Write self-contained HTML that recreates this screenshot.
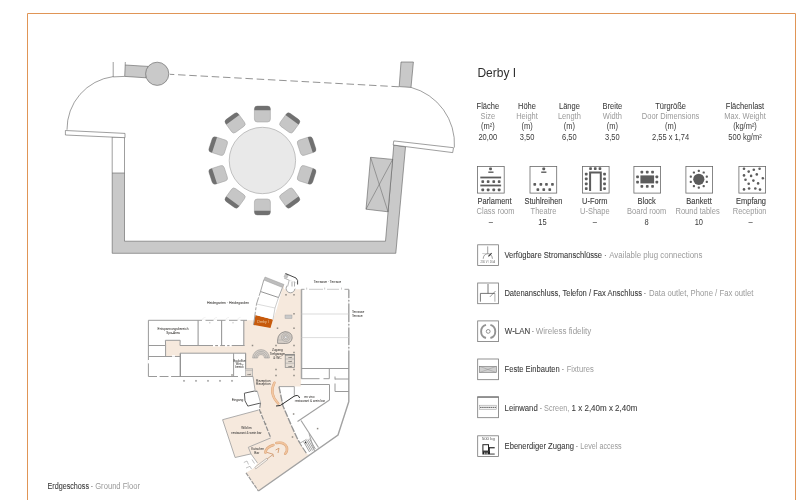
<!DOCTYPE html><html><head><meta charset="utf-8"><title>Derby I</title><style>html,body{margin:0;padding:0;background:#fff}svg{display:block;will-change:transform}text{font-family:"Liberation Sans",sans-serif}</style></head><body><svg width="800" height="500" viewBox="0 0 800 500"><path d="M27.5 500V13.5H795.5V500" fill="none" stroke="#e09556" stroke-width="1"/>
<polygon points="112.2,173.0 112.2,253.3 395.8,253.3 405.5,146.9 393.8,145.0 385.5,241.2 124.5,241.2 124.5,173.0" fill="#c9c9c9" stroke="#5e5e5e" stroke-width="0.6" />
<polyline points="112.2,173.0 112.2,137.0 124.5,137.0 124.5,173.0" fill="none" stroke="#5e5e5e" stroke-width="0.6" />
<polygon points="65.4,130.5 125.0,133.4 125.0,137.7 65.4,135.0" fill="#fff" stroke="#5e5e5e" stroke-width="0.6" />
<path d="M113.2 76.6 A53 53 0 0 0 67 129.8" fill="none" stroke="#5e5e5e" stroke-width="0.6"/>
<line x1="113.2" y1="62" x2="113.2" y2="77" stroke="#5e5e5e" stroke-width="0.6" />
<line x1="113.2" y1="76.9" x2="124.7" y2="76.4" stroke="#5e5e5e" stroke-width="0.6" />
<polygon points="125.2,65.0 148.0,66.4 146.0,77.8 124.7,76.4" fill="#c9c9c9" stroke="#5e5e5e" stroke-width="0.6" />
<line x1="125.3" y1="62" x2="125.2" y2="65" stroke="#5e5e5e" stroke-width="0.6" />
<circle cx="157.2" cy="73.8" r="11.6" fill="#c9c9c9" stroke="#5e5e5e" stroke-width="0.6"/>
<line x1="169.8" y1="74.3" x2="399.2" y2="86.8" stroke="#777" stroke-width="0.8" stroke-dasharray="7.5 3.75" stroke-dashoffset="3"/>
<polygon points="401.0,62.0 413.4,62.0 411.0,87.4 399.2,86.6" fill="#c9c9c9" stroke="#5e5e5e" stroke-width="0.6" />
<path d="M411 87.4 A58.6 58.6 0 0 1 454.4 147.5" fill="none" stroke="#5e5e5e" stroke-width="0.6"/>
<polygon points="393.8,140.9 453.5,147.7 452.7,152.6 393.2,145.0" fill="#fff" stroke="#5e5e5e" stroke-width="0.6" />
<polygon points="370.6,157.3 392.7,159.4 388.0,211.8 366.0,209.2" fill="#c9c9c9" stroke="#5e5e5e" stroke-width="0.6" />
<line x1="370.6" y1="157.3" x2="388" y2="211.8" stroke="#5e5e5e" stroke-width="0.5" />
<line x1="392.7" y1="159.4" x2="366" y2="209.2" stroke="#5e5e5e" stroke-width="0.5" />
<circle cx="262.4" cy="160.5" r="33.2" fill="#e9e9e9" stroke="#aaa" stroke-width="0.7"/>
<g transform="rotate(0 262.4 160.5)"><rect x="254.39999999999998" y="106.0" width="16" height="16" rx="3" fill="#c6c6c6" stroke="#9a9a9a" stroke-width="0.5"/><path d="M254.39999999999998 110.2 v-1.2 a3 3 0 0 1 3 -3 h10 a3 3 0 0 1 3 3 v1.2 z" fill="#707070"/></g>
<g transform="rotate(36 262.4 160.5)"><rect x="254.39999999999998" y="106.0" width="16" height="16" rx="3" fill="#c6c6c6" stroke="#9a9a9a" stroke-width="0.5"/><path d="M254.39999999999998 110.2 v-1.2 a3 3 0 0 1 3 -3 h10 a3 3 0 0 1 3 3 v1.2 z" fill="#707070"/></g>
<g transform="rotate(72 262.4 160.5)"><rect x="254.39999999999998" y="106.0" width="16" height="16" rx="3" fill="#c6c6c6" stroke="#9a9a9a" stroke-width="0.5"/><path d="M254.39999999999998 110.2 v-1.2 a3 3 0 0 1 3 -3 h10 a3 3 0 0 1 3 3 v1.2 z" fill="#707070"/></g>
<g transform="rotate(108 262.4 160.5)"><rect x="254.39999999999998" y="106.0" width="16" height="16" rx="3" fill="#c6c6c6" stroke="#9a9a9a" stroke-width="0.5"/><path d="M254.39999999999998 110.2 v-1.2 a3 3 0 0 1 3 -3 h10 a3 3 0 0 1 3 3 v1.2 z" fill="#707070"/></g>
<g transform="rotate(144 262.4 160.5)"><rect x="254.39999999999998" y="106.0" width="16" height="16" rx="3" fill="#c6c6c6" stroke="#9a9a9a" stroke-width="0.5"/><path d="M254.39999999999998 110.2 v-1.2 a3 3 0 0 1 3 -3 h10 a3 3 0 0 1 3 3 v1.2 z" fill="#707070"/></g>
<g transform="rotate(180 262.4 160.5)"><rect x="254.39999999999998" y="106.0" width="16" height="16" rx="3" fill="#c6c6c6" stroke="#9a9a9a" stroke-width="0.5"/><path d="M254.39999999999998 110.2 v-1.2 a3 3 0 0 1 3 -3 h10 a3 3 0 0 1 3 3 v1.2 z" fill="#707070"/></g>
<g transform="rotate(216 262.4 160.5)"><rect x="254.39999999999998" y="106.0" width="16" height="16" rx="3" fill="#c6c6c6" stroke="#9a9a9a" stroke-width="0.5"/><path d="M254.39999999999998 110.2 v-1.2 a3 3 0 0 1 3 -3 h10 a3 3 0 0 1 3 3 v1.2 z" fill="#707070"/></g>
<g transform="rotate(252 262.4 160.5)"><rect x="254.39999999999998" y="106.0" width="16" height="16" rx="3" fill="#c6c6c6" stroke="#9a9a9a" stroke-width="0.5"/><path d="M254.39999999999998 110.2 v-1.2 a3 3 0 0 1 3 -3 h10 a3 3 0 0 1 3 3 v1.2 z" fill="#707070"/></g>
<g transform="rotate(288 262.4 160.5)"><rect x="254.39999999999998" y="106.0" width="16" height="16" rx="3" fill="#c6c6c6" stroke="#9a9a9a" stroke-width="0.5"/><path d="M254.39999999999998 110.2 v-1.2 a3 3 0 0 1 3 -3 h10 a3 3 0 0 1 3 3 v1.2 z" fill="#707070"/></g>
<g transform="rotate(324 262.4 160.5)"><rect x="254.39999999999998" y="106.0" width="16" height="16" rx="3" fill="#c6c6c6" stroke="#9a9a9a" stroke-width="0.5"/><path d="M254.39999999999998 110.2 v-1.2 a3 3 0 0 1 3 -3 h10 a3 3 0 0 1 3 3 v1.2 z" fill="#707070"/></g>
<text x="477.4" y="76.6" font-size="12" fill="#2e2e2e" text-anchor="start" font-weight="normal" >Derby I</text>
<text transform="translate(487.8 108.9) scale(0.904 1)" font-size="8.3" fill="#3a3a3a" text-anchor="middle" font-weight="normal" stroke="#3a3a3a" stroke-width="0.06">Fläche</text>
<text transform="translate(487.8 118.6) scale(0.904 1)" font-size="8.3" fill="#9a9a9a" text-anchor="middle" font-weight="normal" >Size</text>
<text transform="translate(487.8 128.6) scale(0.904 1)" font-size="8.3" fill="#3a3a3a" text-anchor="middle" font-weight="normal" >(m²)</text>
<text transform="translate(487.8 139.5) scale(0.904 1)" font-size="8.3" fill="#3a3a3a" text-anchor="middle" font-weight="normal" >20,00</text>
<text transform="translate(527 108.9) scale(0.904 1)" font-size="8.3" fill="#3a3a3a" text-anchor="middle" font-weight="normal" stroke="#3a3a3a" stroke-width="0.06">Höhe</text>
<text transform="translate(527 118.6) scale(0.904 1)" font-size="8.3" fill="#9a9a9a" text-anchor="middle" font-weight="normal" >Height</text>
<text transform="translate(527 128.6) scale(0.904 1)" font-size="8.3" fill="#3a3a3a" text-anchor="middle" font-weight="normal" >(m)</text>
<text transform="translate(527 139.5) scale(0.904 1)" font-size="8.3" fill="#3a3a3a" text-anchor="middle" font-weight="normal" >3,50</text>
<text transform="translate(569.4 108.9) scale(0.904 1)" font-size="8.3" fill="#3a3a3a" text-anchor="middle" font-weight="normal" stroke="#3a3a3a" stroke-width="0.06">Länge</text>
<text transform="translate(569.4 118.6) scale(0.904 1)" font-size="8.3" fill="#9a9a9a" text-anchor="middle" font-weight="normal" >Length</text>
<text transform="translate(569.4 128.6) scale(0.904 1)" font-size="8.3" fill="#3a3a3a" text-anchor="middle" font-weight="normal" >(m)</text>
<text transform="translate(569.4 139.5) scale(0.904 1)" font-size="8.3" fill="#3a3a3a" text-anchor="middle" font-weight="normal" >6,50</text>
<text transform="translate(612.4 108.9) scale(0.904 1)" font-size="8.3" fill="#3a3a3a" text-anchor="middle" font-weight="normal" stroke="#3a3a3a" stroke-width="0.06">Breite</text>
<text transform="translate(612.4 118.6) scale(0.904 1)" font-size="8.3" fill="#9a9a9a" text-anchor="middle" font-weight="normal" >Width</text>
<text transform="translate(612.4 128.6) scale(0.904 1)" font-size="8.3" fill="#3a3a3a" text-anchor="middle" font-weight="normal" >(m)</text>
<text transform="translate(612.4 139.5) scale(0.904 1)" font-size="8.3" fill="#3a3a3a" text-anchor="middle" font-weight="normal" >3,50</text>
<text transform="translate(670.6 108.9) scale(0.904 1)" font-size="8.3" fill="#3a3a3a" text-anchor="middle" font-weight="normal" stroke="#3a3a3a" stroke-width="0.06">Türgröße</text>
<text transform="translate(670.6 118.6) scale(0.904 1)" font-size="8.3" fill="#9a9a9a" text-anchor="middle" font-weight="normal" >Door Dimensions</text>
<text transform="translate(670.6 128.6) scale(0.904 1)" font-size="8.3" fill="#3a3a3a" text-anchor="middle" font-weight="normal" >(m)</text>
<text transform="translate(670.6 139.5) scale(0.904 1)" font-size="8.3" fill="#3a3a3a" text-anchor="middle" font-weight="normal" >2,55 x 1,74</text>
<text transform="translate(745 108.9) scale(0.904 1)" font-size="8.3" fill="#3a3a3a" text-anchor="middle" font-weight="normal" stroke="#3a3a3a" stroke-width="0.06">Flächenlast</text>
<text transform="translate(745 118.6) scale(0.904 1)" font-size="8.3" fill="#9a9a9a" text-anchor="middle" font-weight="normal" >Max. Weight</text>
<text transform="translate(745 128.6) scale(0.904 1)" font-size="8.3" fill="#3a3a3a" text-anchor="middle" font-weight="normal" >(kg/m²)</text>
<text transform="translate(745 139.5) scale(0.904 1)" font-size="8.3" fill="#3a3a3a" text-anchor="middle" font-weight="normal" >500 kg/m²</text>
<rect x="477.5" y="166.4" width="26.7" height="26.7" fill="#fff" stroke="#6a6a6a" stroke-width="0.8"/>
<rect x="530.0" y="166.4" width="26.7" height="26.7" fill="#fff" stroke="#6a6a6a" stroke-width="0.8"/>
<rect x="582.4" y="166.4" width="26.7" height="26.7" fill="#fff" stroke="#6a6a6a" stroke-width="0.8"/>
<rect x="633.9" y="166.4" width="26.7" height="26.7" fill="#fff" stroke="#6a6a6a" stroke-width="0.8"/>
<rect x="685.9" y="166.4" width="26.7" height="26.7" fill="#fff" stroke="#6a6a6a" stroke-width="0.8"/>
<rect x="738.9" y="166.4" width="26.7" height="26.7" fill="#fff" stroke="#6a6a6a" stroke-width="0.8"/>
<text transform="translate(494.5 203.5) scale(0.904 1)" font-size="8.3" fill="#3a3a3a" text-anchor="middle" font-weight="normal" stroke="#3a3a3a" stroke-width="0.1">Parlament</text>
<text transform="translate(495.5 213.9) scale(0.904 1)" font-size="8.3" fill="#9a9a9a" text-anchor="middle" font-weight="normal" >Class room</text>
<text transform="translate(490.8 225) scale(0.904 1)" font-size="8.3" fill="#3a3a3a" text-anchor="middle" font-weight="normal" >–</text>
<text transform="translate(543.5 203.5) scale(0.904 1)" font-size="8.3" fill="#3a3a3a" text-anchor="middle" font-weight="normal" stroke="#3a3a3a" stroke-width="0.1">Stuhlreihen</text>
<text transform="translate(543.5 213.9) scale(0.904 1)" font-size="8.3" fill="#9a9a9a" text-anchor="middle" font-weight="normal" >Theatre</text>
<text transform="translate(542.5 225) scale(0.904 1)" font-size="8.3" fill="#3a3a3a" text-anchor="middle" font-weight="normal" >15</text>
<text transform="translate(594.8 203.5) scale(0.904 1)" font-size="8.3" fill="#3a3a3a" text-anchor="middle" font-weight="normal" stroke="#3a3a3a" stroke-width="0.1">U-Form</text>
<text transform="translate(594.8 213.9) scale(0.904 1)" font-size="8.3" fill="#9a9a9a" text-anchor="middle" font-weight="normal" >U-Shape</text>
<text transform="translate(594.8 225) scale(0.904 1)" font-size="8.3" fill="#3a3a3a" text-anchor="middle" font-weight="normal" >–</text>
<text transform="translate(646.7 203.5) scale(0.904 1)" font-size="8.3" fill="#3a3a3a" text-anchor="middle" font-weight="normal" stroke="#3a3a3a" stroke-width="0.1">Block</text>
<text transform="translate(646.7 213.9) scale(0.904 1)" font-size="8.3" fill="#9a9a9a" text-anchor="middle" font-weight="normal" >Board room</text>
<text transform="translate(646.6 225) scale(0.904 1)" font-size="8.3" fill="#3a3a3a" text-anchor="middle" font-weight="normal" >8</text>
<text transform="translate(699 203.5) scale(0.904 1)" font-size="8.3" fill="#3a3a3a" text-anchor="middle" font-weight="normal" stroke="#3a3a3a" stroke-width="0.1">Bankett</text>
<text transform="translate(697.6 213.9) scale(0.904 1)" font-size="8.3" fill="#9a9a9a" text-anchor="middle" font-weight="normal" >Round tables</text>
<text transform="translate(698.8 225) scale(0.904 1)" font-size="8.3" fill="#3a3a3a" text-anchor="middle" font-weight="normal" >10</text>
<text transform="translate(751 203.5) scale(0.904 1)" font-size="8.3" fill="#3a3a3a" text-anchor="middle" font-weight="normal" stroke="#3a3a3a" stroke-width="0.1">Empfang</text>
<text transform="translate(749.6 213.9) scale(0.904 1)" font-size="8.3" fill="#9a9a9a" text-anchor="middle" font-weight="normal" >Reception</text>
<text transform="translate(750.7 225) scale(0.904 1)" font-size="8.3" fill="#3a3a3a" text-anchor="middle" font-weight="normal" >–</text>
<rect x="489.2" y="167.5" width="2.7" height="2.7" rx="0.7" fill="#5c5c5c"/>
<rect x="488.3" y="171.5" width="5.2" height="1.4" fill="#5c5c5c"/>
<rect x="480.3" y="176.6" width="20.8" height="1.8" fill="#5c5c5c"/>
<rect x="480.3" y="184.6" width="20.8" height="1.8" fill="#5c5c5c"/>
<rect x="481.4" y="180.2" width="2.7" height="2.7" rx="0.7" fill="#5c5c5c"/>
<rect x="481.4" y="188.5" width="2.7" height="2.7" rx="0.7" fill="#5c5c5c"/>
<rect x="486.8" y="180.2" width="2.7" height="2.7" rx="0.7" fill="#5c5c5c"/>
<rect x="486.8" y="188.5" width="2.7" height="2.7" rx="0.7" fill="#5c5c5c"/>
<rect x="492.4" y="180.2" width="2.7" height="2.7" rx="0.7" fill="#5c5c5c"/>
<rect x="492.4" y="188.5" width="2.7" height="2.7" rx="0.7" fill="#5c5c5c"/>
<rect x="497.8" y="180.2" width="2.7" height="2.7" rx="0.7" fill="#5c5c5c"/>
<rect x="497.8" y="188.5" width="2.7" height="2.7" rx="0.7" fill="#5c5c5c"/>
<rect x="542.4" y="167.5" width="2.7" height="2.7" rx="0.7" fill="#5c5c5c"/>
<rect x="541.2" y="171.5" width="5.2" height="1.4" fill="#5c5c5c"/>
<rect x="533.4" y="183.1" width="2.7" height="2.7" rx="0.7" fill="#5c5c5c"/>
<rect x="539.5" y="183.1" width="2.7" height="2.7" rx="0.7" fill="#5c5c5c"/>
<rect x="545.1" y="183.1" width="2.7" height="2.7" rx="0.7" fill="#5c5c5c"/>
<rect x="551.1" y="183.1" width="2.7" height="2.7" rx="0.7" fill="#5c5c5c"/>
<rect x="536.5" y="188.2" width="2.7" height="2.7" rx="0.7" fill="#5c5c5c"/>
<rect x="542.4" y="188.2" width="2.7" height="2.7" rx="0.7" fill="#5c5c5c"/>
<rect x="548.4" y="188.2" width="2.7" height="2.7" rx="0.7" fill="#5c5c5c"/>
<path d="M590.1 191V172.6H600.8V191" fill="none" stroke="#5c5c5c" stroke-width="2"/>
<rect x="589.2" y="167.2" width="2.7" height="2.7" rx="0.7" fill="#5c5c5c"/>
<rect x="593.9" y="167.2" width="2.7" height="2.7" rx="0.7" fill="#5c5c5c"/>
<rect x="598.6" y="167.2" width="2.7" height="2.7" rx="0.7" fill="#5c5c5c"/>
<rect x="584.9" y="172.7" width="2.7" height="2.7" rx="0.7" fill="#5c5c5c"/>
<rect x="603.2" y="172.7" width="2.7" height="2.7" rx="0.7" fill="#5c5c5c"/>
<rect x="584.9" y="177.5" width="2.7" height="2.7" rx="0.7" fill="#5c5c5c"/>
<rect x="603.2" y="177.5" width="2.7" height="2.7" rx="0.7" fill="#5c5c5c"/>
<rect x="584.9" y="182.5" width="2.7" height="2.7" rx="0.7" fill="#5c5c5c"/>
<rect x="603.2" y="182.5" width="2.7" height="2.7" rx="0.7" fill="#5c5c5c"/>
<rect x="584.9" y="187.2" width="2.7" height="2.7" rx="0.7" fill="#5c5c5c"/>
<rect x="603.2" y="187.2" width="2.7" height="2.7" rx="0.7" fill="#5c5c5c"/>
<rect x="640.4" y="175.4" width="13.7" height="8" fill="#5c5c5c"/>
<rect x="640.5" y="170.8" width="2.7" height="2.7" rx="0.7" fill="#5c5c5c"/>
<rect x="640.5" y="185.0" width="2.7" height="2.7" rx="0.7" fill="#5c5c5c"/>
<rect x="645.9" y="170.8" width="2.7" height="2.7" rx="0.7" fill="#5c5c5c"/>
<rect x="645.9" y="185.0" width="2.7" height="2.7" rx="0.7" fill="#5c5c5c"/>
<rect x="651.2" y="170.8" width="2.7" height="2.7" rx="0.7" fill="#5c5c5c"/>
<rect x="651.2" y="185.0" width="2.7" height="2.7" rx="0.7" fill="#5c5c5c"/>
<rect x="636.2" y="175.6" width="2.7" height="2.7" rx="0.7" fill="#5c5c5c"/>
<rect x="655.5" y="175.6" width="2.7" height="2.7" rx="0.7" fill="#5c5c5c"/>
<rect x="636.2" y="180.8" width="2.7" height="2.7" rx="0.7" fill="#5c5c5c"/>
<rect x="655.5" y="180.8" width="2.7" height="2.7" rx="0.7" fill="#5c5c5c"/>
<circle cx="698.8" cy="179.3" r="5.6" fill="#5c5c5c"/>
<rect x="697.7" y="169.8" width="2.2" height="2.2" rx="0.7" fill="#5c5c5c"/>
<rect x="702.6" y="171.4" width="2.2" height="2.2" rx="0.7" fill="#5c5c5c"/>
<rect x="705.7" y="175.6" width="2.2" height="2.2" rx="0.7" fill="#5c5c5c"/>
<rect x="705.7" y="180.8" width="2.2" height="2.2" rx="0.7" fill="#5c5c5c"/>
<rect x="702.6" y="185.0" width="2.2" height="2.2" rx="0.7" fill="#5c5c5c"/>
<rect x="697.7" y="186.6" width="2.2" height="2.2" rx="0.7" fill="#5c5c5c"/>
<rect x="692.8" y="185.0" width="2.2" height="2.2" rx="0.7" fill="#5c5c5c"/>
<rect x="689.7" y="180.8" width="2.2" height="2.2" rx="0.7" fill="#5c5c5c"/>
<rect x="689.7" y="175.6" width="2.2" height="2.2" rx="0.7" fill="#5c5c5c"/>
<rect x="692.8" y="171.4" width="2.2" height="2.2" rx="0.7" fill="#5c5c5c"/>
<circle cx="744.0" cy="168.8" r="1.3" fill="#5c5c5c"/>
<circle cx="753.8" cy="169.8" r="1.3" fill="#5c5c5c"/>
<circle cx="759.6" cy="168.8" r="1.3" fill="#5c5c5c"/>
<circle cx="748.7" cy="171.6" r="1.3" fill="#5c5c5c"/>
<circle cx="756.8" cy="174.4" r="1.3" fill="#5c5c5c"/>
<circle cx="762.8" cy="178.2" r="1.3" fill="#5c5c5c"/>
<circle cx="744.0" cy="175.4" r="1.3" fill="#5c5c5c"/>
<circle cx="751.1" cy="175.9" r="1.3" fill="#5c5c5c"/>
<circle cx="745.5" cy="179.7" r="1.3" fill="#5c5c5c"/>
<circle cx="753.4" cy="180.6" r="1.3" fill="#5c5c5c"/>
<circle cx="758.1" cy="183.4" r="1.3" fill="#5c5c5c"/>
<circle cx="748.7" cy="183.8" r="1.3" fill="#5c5c5c"/>
<circle cx="744.0" cy="189.4" r="1.3" fill="#5c5c5c"/>
<circle cx="749.1" cy="188.5" r="1.3" fill="#5c5c5c"/>
<circle cx="755.3" cy="188.5" r="1.3" fill="#5c5c5c"/>
<circle cx="760.0" cy="189.6" r="1.3" fill="#5c5c5c"/>
<rect x="477.7" y="244.8" width="20.7" height="20.7" fill="#fff" stroke="#777" stroke-width="0.8"/>
<rect x="477.7" y="283.0" width="20.7" height="20.7" fill="#fff" stroke="#777" stroke-width="0.8"/>
<rect x="477.7" y="320.9" width="20.7" height="20.7" fill="#fff" stroke="#777" stroke-width="0.8"/>
<rect x="477.7" y="359.0" width="20.7" height="20.7" fill="#fff" stroke="#777" stroke-width="0.8"/>
<rect x="477.7" y="397.0" width="20.7" height="20.7" fill="#fff" stroke="#777" stroke-width="0.8"/>
<rect x="477.7" y="435.79999999999995" width="20.7" height="20.7" fill="#fff" stroke="#777" stroke-width="0.8"/>
<rect x="477.3" y="396.4" width="21.5" height="1.3" fill="#777"/>
<text x="504.4" y="258.3" font-size="8.3" fill="#3a3a3a" stroke="#3a3a3a" stroke-width="0.08" textLength="97.7" lengthAdjust="spacingAndGlyphs">Verfügbare Stromanschlüsse</text>
<text x="605.5" y="258.3" font-size="8.3" fill="#777" text-anchor="middle" stroke="#777" stroke-width="0.2">·</text>
<text x="609.2" y="258.3" font-size="8.3" fill="#9a9a9a" textLength="93.2" lengthAdjust="spacingAndGlyphs">Available plug connections</text>
<text x="504.4" y="296.3" font-size="8.3" fill="#3a3a3a" stroke="#3a3a3a" stroke-width="0.08" textLength="137.6" lengthAdjust="spacingAndGlyphs">Datenanschluss, Telefon / Fax Anschluss</text>
<text x="645.0" y="296.3" font-size="8.3" fill="#777" text-anchor="middle" stroke="#777" stroke-width="0.2">·</text>
<text x="648.9" y="296.3" font-size="8.3" fill="#9a9a9a" textLength="104.5" lengthAdjust="spacingAndGlyphs">Data outlet, Phone / Fax outlet</text>
<text x="504.8" y="334.4" font-size="8.3" fill="#3a3a3a" stroke="#3a3a3a" stroke-width="0.08" textLength="25.4" lengthAdjust="spacingAndGlyphs">W-LAN</text>
<text x="533.0" y="334.4" font-size="8.3" fill="#777" text-anchor="middle" stroke="#777" stroke-width="0.2">·</text>
<text x="535.8" y="334.4" font-size="8.3" fill="#9a9a9a" textLength="55.5" lengthAdjust="spacingAndGlyphs">Wireless fidelity</text>
<text x="504.6" y="372.3" font-size="8.3" fill="#3a3a3a" stroke="#3a3a3a" stroke-width="0.08" textLength="55.1" lengthAdjust="spacingAndGlyphs">Feste Einbauten</text>
<text x="563.0" y="372.3" font-size="8.3" fill="#777" text-anchor="middle" stroke="#777" stroke-width="0.2">·</text>
<text x="566.7" y="372.3" font-size="8.3" fill="#9a9a9a" textLength="27.0" lengthAdjust="spacingAndGlyphs">Fixtures</text>
<text x="504.6" y="410.5" font-size="8.3" fill="#3a3a3a" stroke="#3a3a3a" stroke-width="0.08" textLength="33.1" lengthAdjust="spacingAndGlyphs">Leinwand</text>
<text x="541.0" y="410.5" font-size="8.3" fill="#777" text-anchor="middle" stroke="#777" stroke-width="0.2">·</text>
<text x="544.1" y="410.5" font-size="8.3" fill="#9a9a9a" textLength="25.2" lengthAdjust="spacingAndGlyphs">Screen,</text>
<text x="571.6" y="410.5" font-size="8.3" fill="#3a3a3a" stroke="#3a3a3a" stroke-width="0.08" textLength="65.7" lengthAdjust="spacingAndGlyphs">1 x 2,40m x 2,40m</text>
<text x="504.6" y="448.9" font-size="8.3" fill="#3a3a3a" stroke="#3a3a3a" stroke-width="0.08" textLength="69.3" lengthAdjust="spacingAndGlyphs">Ebenerdiger Zugang</text>
<text x="577.0" y="448.9" font-size="8.3" fill="#777" text-anchor="middle" stroke="#777" stroke-width="0.2">·</text>
<text x="580.3" y="448.9" font-size="8.3" fill="#9a9a9a" textLength="41.4" lengthAdjust="spacingAndGlyphs">Level access</text>
<path d="M487.7 246.4V253.8M483.2 258.8A4.6 5.2 0 0 1 492.4 258.8" fill="none" stroke="#777" stroke-width="0.7"/>
<path d="M482.3 253.5L487.7 253.9" fill="none" stroke="#aaa" stroke-width="0.6"/>
<path d="M488.4 256.4L491.6 253.2" fill="none" stroke="#333" stroke-width="1.1"/>
<text x="487.8" y="263" font-size="2.7" fill="#666" text-anchor="middle">230 V / 16 A</text>
<path d="M488 284V293.4M480.4 301.7V293.4H494.9" fill="none" stroke="#555" stroke-width="0.8"/>
<path d="M494.9 293.4V301.7" fill="none" stroke="#999" stroke-width="0.8"/>
<path d="M489.9 296.9L495.5 291" fill="none" stroke="#555" stroke-width="0.6"/>
<circle cx="488.2" cy="331.4" r="1.9" fill="none" stroke="#777" stroke-width="0.8"/>
<path d="M486 324.8A6.9 6.9 0 0 0 486 338M490.4 324.8A6.9 6.9 0 0 1 490.4 338" fill="none" stroke="#949494" stroke-width="1.9"/>
<rect x="479.5" y="366.3" width="16.8" height="6.2" fill="#cfcfcf" stroke="#777" stroke-width="0.6"/>
<path d="M479.5 366.3l16.8 6.2M496.3 366.3l-16.8 6.2" stroke="#888" stroke-width="0.4"/>
<rect x="479.5" y="405.2" width="16.8" height="4.4" fill="#f2f2f2" stroke="#999" stroke-width="0.5"/>
<line x1="480" y1="407.4" x2="496" y2="407.4" stroke="#666" stroke-width="1" stroke-dasharray="1.6 0.5"/>
<text x="488.3" y="440.3" font-size="4.4" fill="#555" text-anchor="middle">500 kg</text>
<rect x="482.9" y="444.7" width="5.6" height="6.4" fill="#fff" stroke="#222" stroke-width="1"/>
<rect x="488.8" y="447" width="5.9" height="1.4" fill="#444"/>
<rect x="489.1" y="447" width="0.9" height="5" fill="#333"/>
<rect x="482.4" y="451.3" width="7.6" height="3.2" fill="#222"/>
<rect x="484.4" y="452.4" width="0.9" height="2.1" fill="#fff"/><rect x="486.6" y="452.4" width="0.9" height="2.1" fill="#fff"/>
<rect x="490" y="453.6" width="4.7" height="0.9" fill="#222"/>
<text x="47.5" y="488.8" font-size="8.3" fill="#3a3a3a" stroke="#3a3a3a" stroke-width="0.08" textLength="41.5" lengthAdjust="spacingAndGlyphs">Erdgeschoss</text>
<text x="92.0" y="488.8" font-size="8.3" fill="#777" text-anchor="middle" stroke="#777" stroke-width="0.2">·</text>
<text x="95.2" y="488.8" font-size="8.3" fill="#9a9a9a" textLength="44.9" lengthAdjust="spacingAndGlyphs">Ground Floor</text>
<polygon points="284.0,284.5 284.0,289.3 301.3,289.3 301.3,384.5 300.6,386.5 279.0,386.5 283.0,406.0 287.5,416.5 292.0,427.0 298.0,440.0 307.0,454.0 309.8,454.8 258.4,491.0 246.0,472.8 254.8,467.6 257.5,463.0 251.0,453.9 248.3,447.3 270.8,437.9 259.5,410.0 260.5,403.0 257.5,390.8 255.0,390.0 253.0,376.5 252.7,368.8 246.0,368.8 246.0,353.2 180.0,353.2 180.0,356.5 165.6,356.5 165.4,340.3 180.2,340.3 180.0,345.5 244.0,345.5 244.0,320.3 254.0,320.3 253.5,325.0 270.5,328.0 273.0,319.5 277.0,308.0 280.0,297.0 283.0,286.0" fill="#f6e9dd"/>
<polygon points="222.6,419.7 258.6,410.0 270.8,437.9 248.3,447.3 251.0,453.9 235.1,457.5" fill="#f6e9dd"/>
<polygon points="255.5,315.0 273.0,319.5 270.5,328.0 253.5,325.0" fill="#c75a0c" stroke="none" stroke-width="0" />
<polygon points="263.8,280.0 282.5,287.5 273.0,319.5 255.5,315.0" fill="#fff" stroke="none" stroke-width="0" />
<polyline points="253.5,325.0 256.5,304.0 260.5,291.5 263.8,280.0" fill="none" stroke="#9a9a9a" stroke-width="0.9" />
<polyline points="282.5,287.5 278.5,297.5" fill="none" stroke="#9a9a9a" stroke-width="0.9" />
<polyline points="278.5,297.5 275.0,308.0 273.0,319.5" fill="none" stroke="#b8b8b8" stroke-width="0.7" />
<line x1="256.5" y1="304" x2="275" y2="308" stroke="#b8b8b8" stroke-width="0.5" />
<line x1="260.5" y1="291.5" x2="278.5" y2="297.5" stroke="#8a8a8a" stroke-width="0.9" />
<polygon points="265.0,277.0 284.0,284.5 282.5,287.5 263.8,280.0" fill="#bdbdbd" stroke="#9a9a9a" stroke-width="0.5" />
<rect x="257.90000000000003" y="295.7" width="1.8" height="1.6" fill="#fff"/>
<rect x="255.1" y="305.7" width="1.8" height="1.6" fill="#fff"/>
<rect x="254.4" y="310.2" width="1.8" height="1.6" fill="#fff"/>
<circle cx="290.5" cy="288.4" r="4.4" fill="#fff" stroke="#9a9a9a" stroke-width="0.9"/>
<polygon points="284.2,276.2 286.2,273.8 297.0,278.4 297.8,285.0 295.0,289.0 287.5,287.0" fill="#fff" stroke="none" stroke-width="0" />
<polygon points="285.3,273.6 288.4,274.9 287.0,278.3 283.9,277.0" fill="#c4c4c4" stroke="#9a9a9a" stroke-width="0.3" />
<polyline points="285.5,273.5 296.0,278.0 297.6,280.5 297.6,284.5" fill="none" stroke="#333" stroke-width="0.9" />
<polyline points="284.0,278.0 289.2,280.2 287.6,286.6" fill="none" stroke="#9a9a9a" stroke-width="0.7" />
<polyline points="292.0,282.0 292.0,286.5" fill="none" stroke="#9a9a9a" stroke-width="0.8" />
<polyline points="294.5,281.5 294.5,286.5" fill="none" stroke="#9a9a9a" stroke-width="0.8" />
<polyline points="289.2,280.2 296.5,283.0" fill="none" stroke="#bbb" stroke-width="0.4" />
<rect x="148.4" y="320.3" width="95.4" height="25.2" fill="#fff"/>
<rect x="148.4" y="353.2" width="97.6" height="23.3" fill="#fff"/>
<rect x="165.6" y="340.3" width="14.4" height="16.2" fill="#f6e9dd"/>
<polyline points="247.0,320.3 148.4,320.3 148.4,376.5 253.0,376.5" fill="none" stroke="#9a9a9a" stroke-width="1.0" />
<polyline points="198.1,320.3 198.1,345.5" fill="none" stroke="#9a9a9a" stroke-width="1.1" />
<polyline points="221.6,320.3 221.6,345.5" fill="none" stroke="#9a9a9a" stroke-width="1.1" />
<polyline points="243.8,320.3 243.8,345.5" fill="none" stroke="#9a9a9a" stroke-width="1.1" />
<polyline points="148.4,345.5 165.6,345.5 165.4,340.3 180.2,340.3 180.0,345.5 244.6,345.5" fill="none" stroke="#9a9a9a" stroke-width="1.0" />
<polyline points="165.6,345.5 165.6,356.5" fill="none" stroke="#9a9a9a" stroke-width="1.0" />
<polyline points="148.4,356.5 180.0,356.5" fill="none" stroke="#9a9a9a" stroke-width="1.0" />
<polyline points="180.3,376.5 180.3,353.2" fill="none" stroke="#8e8e8e" stroke-width="1.3" />
<polyline points="180.0,353.2 246.0,353.2" fill="none" stroke="#9a9a9a" stroke-width="1.0" />
<polyline points="233.6,353.2 233.6,376.5" fill="none" stroke="#9a9a9a" stroke-width="1.0" />
<polyline points="245.6,353.2 245.6,369.0" fill="none" stroke="#9a9a9a" stroke-width="1.2" />
<rect x="202" y="319.3" width="3.5" height="2" fill="#fff"/>
<path d="M202 320 a3.5 3.5 0 0 1 3.5 -2.6" fill="none" stroke="#ddd" stroke-width="0.4"/>
<rect x="213.5" y="319.3" width="3.5" height="2" fill="#fff"/>
<path d="M213.5 320 a3.5 3.5 0 0 1 3.5 -2.6" fill="none" stroke="#ddd" stroke-width="0.4"/>
<rect x="225.5" y="319.3" width="3.5" height="2" fill="#fff"/>
<path d="M225.5 320 a3.5 3.5 0 0 1 3.5 -2.6" fill="none" stroke="#ddd" stroke-width="0.4"/>
<rect x="237.5" y="319.3" width="3" height="2" fill="#fff"/>
<path d="M237.5 320 a3 3 0 0 1 3 -2.6" fill="none" stroke="#ddd" stroke-width="0.4"/>
<rect x="213" y="345" width="2.2" height="1.6" fill="#fff"/>
<rect x="218" y="345" width="2.2" height="1.6" fill="#fff"/>
<rect x="225" y="345" width="2.2" height="1.6" fill="#fff"/>
<rect x="229.5" y="345" width="2.2" height="1.6" fill="#fff"/>
<rect x="157" y="375.7" width="2.6" height="1.8" fill="#fff"/>
<rect x="168.5" y="375.7" width="2.6" height="1.8" fill="#fff"/>
<rect x="147.5" y="360" width="1.8" height="3.4" fill="#fff"/>
<rect x="172" y="355.2" width="3" height="1.6" fill="#fff"/>
<rect x="238" y="375.7" width="3" height="1.8" fill="#fff"/>
<rect x="183.3" y="380.2" width="1.5" height="1.5" fill="#e8e8e8" stroke="#999" stroke-width="0.45"/>
<rect x="195.3" y="380.2" width="1.5" height="1.5" fill="#e8e8e8" stroke="#999" stroke-width="0.45"/>
<rect x="207.3" y="380.2" width="1.5" height="1.5" fill="#e8e8e8" stroke="#999" stroke-width="0.45"/>
<rect x="219.3" y="380.2" width="1.5" height="1.5" fill="#e8e8e8" stroke="#999" stroke-width="0.45"/>
<rect x="231.3" y="380.2" width="1.5" height="1.5" fill="#e8e8e8" stroke="#999" stroke-width="0.45"/>
<rect x="209.3" y="322.3" width="1" height="1" fill="#aaa"/>
<rect x="232.5" y="322.3" width="1" height="1" fill="#aaa"/>
<rect x="245.7" y="368.8" width="7" height="7.4" fill="#e6ded6" stroke="#9a9a9a" stroke-width="0.6"/>
<line x1="245.7" y1="370.3" x2="252.7" y2="370.3" stroke="#9a9a9a" stroke-width="0.5" />
<rect x="301.3" y="289.6" width="47.7" height="95" fill="#fff"/>
<polyline points="301.5,289.3 301.5,378.7" fill="none" stroke="#a6a6a6" stroke-width="1.5" />
<polyline points="300.6,384.5 329.5,384.5 329.5,400.0" fill="none" stroke="#9a9a9a" stroke-width="1.0" />
<polyline points="329.5,400.0 297.5,421.5" fill="none" stroke="#a0a0a0" stroke-width="1.1" />
<polyline points="301.3,289.3 304.5,289.3" fill="none" stroke="#9a9a9a" stroke-width="0.9" />
<polyline points="344.5,289.3 349.0,289.3" fill="none" stroke="#9a9a9a" stroke-width="0.9" />
<polyline points="309.0,289.3 323.0,289.3" fill="none" stroke="#b5b5b5" stroke-width="0.7" />
<polyline points="327.0,289.3 339.0,289.3" fill="none" stroke="#b5b5b5" stroke-width="0.7" />
<rect x="306.5" y="287.6" width="0.6" height="2" fill="#aaa"/>
<rect x="324.5" y="287.6" width="0.6" height="2" fill="#aaa"/>
<rect x="341" y="287.6" width="0.6" height="2" fill="#aaa"/>
<polyline points="348.8,289.6 348.8,401.0" fill="none" stroke="#a6a6a6" stroke-width="1.5" />
<polyline points="349.0,401.0 338.0,435.0 258.4,491.0" fill="none" stroke="#a2a2a2" stroke-width="1.4" />
<rect x="348.2" y="298" width="1.7" height="2" fill="#fff"/>
<rect x="348.2" y="301.5" width="1.7" height="2" fill="#fff"/>
<rect x="348.2" y="322" width="1.7" height="2" fill="#fff"/>
<rect x="348.2" y="325.5" width="1.7" height="2" fill="#fff"/>
<rect x="348.2" y="345" width="1.7" height="2" fill="#fff"/>
<rect x="348.2" y="348.5" width="1.7" height="2" fill="#fff"/>
<line x1="301.3" y1="314" x2="349" y2="314" stroke="#c4c4c4" stroke-width="0.6" />
<line x1="301.3" y1="337.6" x2="349" y2="337.6" stroke="#c4c4c4" stroke-width="0.6" />
<polyline points="301.3,368.5 349.0,368.5" fill="none" stroke="#9a9a9a" stroke-width="1.0" />
<polyline points="329.3,368.5 329.3,378.7" fill="none" stroke="#9a9a9a" stroke-width="1.0" />
<polyline points="301.3,378.7 319.5,378.7" fill="none" stroke="#9a9a9a" stroke-width="1.0" />
<polyline points="323.5,378.7 329.3,378.7" fill="none" stroke="#9a9a9a" stroke-width="1.0" />
<polyline points="335.0,376.5 335.0,379.5" fill="none" stroke="#9a9a9a" stroke-width="1.0" />
<polyline points="335.0,379.0 349.0,379.0" fill="none" stroke="#9a9a9a" stroke-width="1.0" />
<polyline points="335.0,383.5 335.0,391.5 349.0,391.5" fill="none" stroke="#9a9a9a" stroke-width="1.0" />
<polyline points="279.0,386.6 294.3,386.6 294.3,395.5" fill="none" stroke="#9a9a9a" stroke-width="0.9" />
<polyline points="301.0,420.5 318.5,447.5" fill="none" stroke="#a0a0a0" stroke-width="1.1" />
<polyline points="279.0,386.6 283.0,406.0 287.5,416.5 292.0,427.0 298.0,440.0 307.0,454.0" fill="none" stroke="#959595" stroke-width="1.4" stroke-dasharray="7 1.2"/>
<polyline points="253.0,376.5 255.0,390.0" fill="none" stroke="#9a9a9a" stroke-width="0.8" />
<polyline points="260.5,403.0 259.5,410.0 264.0,421.0 270.8,437.9" fill="none" stroke="#8e8e8e" stroke-width="1.2" stroke-dasharray="5 1.2"/>
<polyline points="258.6,410.0 222.6,419.7 235.1,457.5 251.0,453.9 248.3,447.3 270.8,437.9" fill="none" stroke="#9a9a9a" stroke-width="0.8" />
<polyline points="251.0,453.9 257.5,463.0" fill="none" stroke="#9a9a9a" stroke-width="0.7" />
<polygon points="254.8,467.3 266.6,458.3 267.6,459.7 255.8,468.9" fill="#faf3ec" stroke="#8a8a8a" stroke-width="0.5" />
<polyline points="267.0,459.0 273.2,454.4" fill="none" stroke="#b98c68" stroke-width="0.7" />
<polyline points="246.0,472.8 258.4,491.0" fill="none" stroke="#9a9a9a" stroke-width="1.2" stroke-dasharray="4 1"/>
<polyline points="243.8,462.5 247.0,461.0 248.5,464.5" fill="none" stroke="#9a9a9a" stroke-width="0.6" />
<polyline points="246.0,468.0 250.0,466.3 251.5,469.0" fill="none" stroke="#9a9a9a" stroke-width="0.6" />
<polyline points="252.0,459.5 254.5,463.5" fill="none" stroke="#9a9a9a" stroke-width="0.6" />
<polygon points="300.3,443.0 306.5,439.3 314.0,449.5 307.5,453.8" fill="#fff" stroke="none" stroke-width="0" />
<line x1="303.6" y1="441.6" x2="309.6" y2="452.0" stroke="#8a8a8a" stroke-width="0.8" />
<line x1="305.05" y1="440.85" x2="311.05" y2="451.25" stroke="#8a8a8a" stroke-width="0.8" />
<line x1="306.5" y1="440.1" x2="312.5" y2="450.5" stroke="#8a8a8a" stroke-width="0.8" />
<line x1="307.95000000000005" y1="439.35" x2="313.95000000000005" y2="449.75" stroke="#8a8a8a" stroke-width="0.8" />
<line x1="309.40000000000003" y1="438.6" x2="315.40000000000003" y2="449.0" stroke="#8a8a8a" stroke-width="0.8" />
<polyline points="300.3,443.0 306.5,439.3" fill="none" stroke="#999" stroke-width="0.8" />
<rect x="305" y="441.8" width="1.2" height="1.4" fill="#333"/>
<polyline points="309.0,433.5 314.5,451.0" fill="none" stroke="#a5a5a5" stroke-width="1.0" />
<polygon points="244.4,393.2 254.5,391.0 257.3,391.3 260.6,403.0 247.8,406.1 245.0,400.8" fill="#fff" stroke="none" stroke-width="0" />
<polyline points="257.3,391.3 254.5,391.0 244.4,393.2 245.0,400.8 247.8,406.1 260.6,403.0" fill="none" stroke="#484848" stroke-width="0.9" />
<polyline points="257.3,391.3 260.6,403.0" fill="none" stroke="#aaa" stroke-width="0.9" />
<path d="M274.5 382.6 Q268.5 393.5 278.3 403.6" fill="none" stroke="#d9a277" stroke-width="2.3" stroke-linecap="round"/>
<path d="M274.5 382.6 Q268.5 393.5 278.3 403.6" fill="none" stroke="#f3c7a1" stroke-width="1.5" stroke-linecap="round"/>
<path d="M276 406 Q280.5 406.5 284 403 L294 396.3 Q298.5 394 299.6 398" fill="none" stroke="#222" stroke-width="0.95"/>
<path d="M265.4 452.6 Q265.6 447.6 273.4 445 M276.4 443 Q284.6 441.4 286.9 447.5 Q287.6 451 285.2 453.8" fill="none" stroke="#d9a277" stroke-width="2.5" stroke-linecap="round"/>
<path d="M265.4 452.6 Q265.6 447.6 273.4 445 M276.4 443 Q284.6 441.4 286.9 447.5 Q287.6 451 285.2 453.8" fill="none" stroke="#f0c39c" stroke-width="1.6" stroke-linecap="round"/>
<path d="M267 452.4 L273 454.2 L273.4 457 M275.6 450 L279 448.2 L278 453" fill="none" stroke="#d49a6e" stroke-width="0.9"/>
<rect x="285" y="315" width="7" height="3.5" fill="#c9c9c9" stroke="#9a9a9a" stroke-width="0.4"/>
<rect x="293.25" y="313.05" width="1.5" height="1.5" fill="#8f8a84"/>
<rect x="276.75" y="327.45" width="1.5" height="1.5" fill="#8f8a84"/>
<rect x="293.25" y="327.45" width="1.5" height="1.5" fill="#8f8a84"/>
<rect x="251.75" y="344.75" width="1.5" height="1.5" fill="#8f8a84"/>
<rect x="275.25" y="344.75" width="1.5" height="1.5" fill="#8f8a84"/>
<rect x="293.25" y="344.75" width="1.5" height="1.5" fill="#8f8a84"/>
<rect x="293.25" y="351.75" width="1.5" height="1.5" fill="#8f8a84"/>
<rect x="275.25" y="368.75" width="1.5" height="1.5" fill="#8f8a84"/>
<rect x="293.25" y="368.75" width="1.5" height="1.5" fill="#8f8a84"/>
<rect x="275.25" y="374.75" width="1.5" height="1.5" fill="#8f8a84"/>
<rect x="293.25" y="374.75" width="1.5" height="1.5" fill="#8f8a84"/>
<rect x="285.25" y="294.05" width="1.5" height="1.5" fill="#8f8a84"/>
<rect x="293.25" y="294.05" width="1.5" height="1.5" fill="#8f8a84"/>
<rect x="292.85" y="413.25" width="1.5" height="1.5" fill="#8f8a84"/>
<rect x="316.85" y="427.85" width="1.5" height="1.5" fill="#8f8a84"/>
<rect x="291.75" y="436.25" width="1.5" height="1.5" fill="#8f8a84"/>
<rect x="259.85" y="411.75" width="1.5" height="1.5" fill="#8f8a84"/>
<rect x="264.75" y="423.25" width="1.5" height="1.5" fill="#8f8a84"/>
<rect x="231.25" y="374.25" width="1.5" height="1.5" fill="#8f8a84"/>
<path d="M277.6 343.3 V340 Q278 333 285 331.6 Q292.3 332 292.2 338 Q291.5 343.3 285.5 343.5 Z" fill="#d6cfc8" stroke="#686868" stroke-width="0.6"/>
<circle cx="285.8" cy="337.3" r="4.3" fill="none" stroke="#999" stroke-width="0.5"/><circle cx="285.8" cy="337.3" r="2.7" fill="none" stroke="#999" stroke-width="0.5"/><circle cx="285.8" cy="337.2" r="1.2" fill="#fff" stroke="#777" stroke-width="0.5"/>
<line x1="277.6" y1="340" x2="283" y2="340" stroke="#999" stroke-width="0.4" />
<path d="M252.6 358 a8.4 8.4 0 0 1 16.8 0 h-4.9 a3.5 3.5 0 0 0 -7 0 z" fill="#d6cfc8" stroke="#8c8c8c" stroke-width="0.5"/>
<path d="M254.4 358 a6.6 6.6 0 0 1 13.2 0 M256 358 a5 5 0 0 1 10 0" fill="none" stroke="#999" stroke-width="0.5"/>
<rect x="285.2" y="354.6" width="9.4" height="12.8" fill="#e4dcd3" stroke="#858585" stroke-width="0.7"/>
<line x1="285.2" y1="355" x2="294.6" y2="355" stroke="#777" stroke-width="1.0" />
<line x1="285.2" y1="359" x2="294.6" y2="359" stroke="#9a9a9a" stroke-width="0.5" />
<line x1="285.2" y1="363.2" x2="294.6" y2="363.2" stroke="#9a9a9a" stroke-width="0.5" />
<text x="228" y="304.2" font-size="3.5" fill="#4c4a48" stroke="#4c4a48" stroke-width="0.05" text-anchor="middle">Heidegarten · Heidegarden</text>
<text x="327.5" y="282.8" font-size="3.4" fill="#4c4a48" stroke="#4c4a48" stroke-width="0.05" text-anchor="middle">Terrasse · Terrace</text>
<text x="352" y="312.8" font-size="3.2" fill="#4c4a48" stroke="#4c4a48" stroke-width="0.05" text-anchor="start">Terrasse</text>
<text x="352" y="317.2" font-size="3.2" fill="#4c4a48" stroke="#4c4a48" stroke-width="0.05" text-anchor="start">Terrace</text>
<text x="173" y="330" font-size="3.2" fill="#4c4a48" stroke="#4c4a48" stroke-width="0.05" text-anchor="middle">Entspannungsbereich</text>
<text x="173" y="334.2" font-size="3.2" fill="#4c4a48" stroke="#4c4a48" stroke-width="0.05" text-anchor="middle">Spa-Area</text>
<text x="263" y="322.8" font-size="3.5" fill="#e9bd90" stroke="#e9bd90" stroke-width="0.05" text-anchor="middle">Derby I</text>
<text x="277.3" y="350.6" font-size="3.2" fill="#4c4a48" stroke="#4c4a48" stroke-width="0.05" text-anchor="middle">Zugang</text>
<text x="277.3" y="354.6" font-size="3.2" fill="#4c4a48" stroke="#4c4a48" stroke-width="0.05" text-anchor="middle">Tiefgarage</text>
<text x="277.3" y="358.6" font-size="3.2" fill="#4c4a48" stroke="#4c4a48" stroke-width="0.05" text-anchor="middle">&amp; WC</text>
<text x="239.5" y="361.5" font-size="2.6" fill="#4c4a48" stroke="#4c4a48" stroke-width="0.05" text-anchor="middle">Backoffice</text>
<text x="239.5" y="364.7" font-size="2.6" fill="#4c4a48" stroke="#4c4a48" stroke-width="0.05" text-anchor="middle">Wirts.-</text>
<text x="239.5" y="367.9" font-size="2.6" fill="#4c4a48" stroke="#4c4a48" stroke-width="0.05" text-anchor="middle">bereich</text>
<text x="249" y="374.6" font-size="2.4" fill="#4c4a48" stroke="#4c4a48" stroke-width="0.05" text-anchor="middle">Lift</text>
<text x="290" y="358.3" font-size="2.4" fill="#4c4a48" stroke="#4c4a48" stroke-width="0.05" text-anchor="middle">Lift</text>
<text x="290" y="362.4" font-size="2.4" fill="#4c4a48" stroke="#4c4a48" stroke-width="0.05" text-anchor="middle">Lift</text>
<text x="290" y="366.5" font-size="2.4" fill="#4c4a48" stroke="#4c4a48" stroke-width="0.05" text-anchor="middle">Lift</text>
<text x="263.3" y="381.8" font-size="3.2" fill="#4c4a48" stroke="#4c4a48" stroke-width="0.05" text-anchor="middle">Rezeption</text>
<text x="263.3" y="385.2" font-size="3.2" fill="#4c4a48" stroke="#4c4a48" stroke-width="0.05" text-anchor="middle">Reception</text>
<text x="237.5" y="401.3" font-size="3.2" fill="#4c4a48" stroke="#4c4a48" stroke-width="0.05" text-anchor="middle">Eingang</text>
<text x="309.5" y="397.6" font-size="3.2" fill="#4c4a48" stroke="#4c4a48" stroke-width="0.05" text-anchor="middle">en vino</text>
<text x="310" y="401.8" font-size="3.2" fill="#4c4a48" stroke="#4c4a48" stroke-width="0.05" text-anchor="middle">restaurant &amp; wein bar</text>
<text x="246.5" y="428.8" font-size="3.2" fill="#4c4a48" stroke="#4c4a48" stroke-width="0.05" text-anchor="middle">Wild im</text>
<text x="246.5" y="433.6" font-size="3.2" fill="#4c4a48" stroke="#4c4a48" stroke-width="0.05" text-anchor="middle">restaurant &amp; wein bar</text>
<text x="257.5" y="449.8" font-size="3.2" fill="#4c4a48" stroke="#4c4a48" stroke-width="0.05" text-anchor="middle">Kutscher</text>
<text x="256.8" y="454" font-size="3.2" fill="#4c4a48" stroke="#4c4a48" stroke-width="0.05" text-anchor="middle">Bar</text></svg></body></html>
